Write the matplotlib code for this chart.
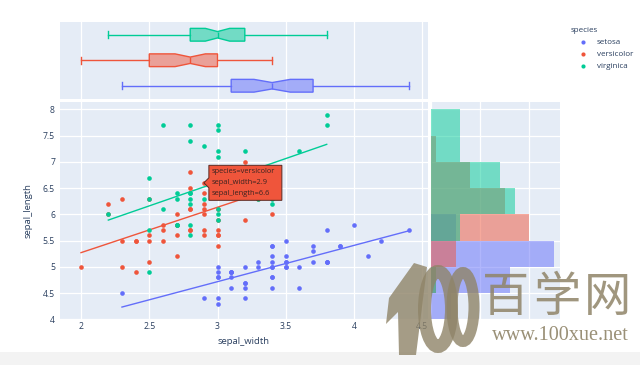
import numpy as np
import matplotlib
matplotlib.use("Agg")
import matplotlib.pyplot as plt
import matplotlib.transforms as mtransforms
from matplotlib.patches import Polygon, Ellipse, Rectangle
from matplotlib.lines import Line2D
from matplotlib.colors import to_rgba

# ---------------- data ----------------
species = ["setosa", "versicolor", "virginica"]
colors = ["#636efa", "#EF553B", "#00cc96"]

setosa_sepal_width = [3.5, 3.0, 3.2, 3.1, 3.6, 3.9, 3.4, 3.4, 2.9, 3.1, 3.7, 3.4, 3.0, 3.0, 4.0, 4.4, 3.9,
                      3.5, 3.8, 3.8, 3.4, 3.7, 3.6, 3.3, 3.4, 3.0, 3.4, 3.5, 3.4, 3.2, 3.1, 3.4, 4.1, 4.2,
                      3.1, 3.2, 3.5, 3.1, 3.0, 3.4, 3.5, 2.3, 3.2, 3.5, 3.8, 3.0, 3.8, 3.2, 3.7, 3.3]
setosa_sepal_length = [5.1, 4.9, 4.7, 4.6, 5.0, 5.4, 4.6, 5.0, 4.4, 4.9, 5.4, 4.8, 4.8, 4.3, 5.8, 5.7, 5.4,
                       5.1, 5.7, 5.1, 5.4, 5.1, 4.6, 5.1, 4.8, 5.0, 5.0, 5.2, 5.2, 4.7, 4.8, 5.4, 5.2, 5.5,
                       4.9, 5.0, 5.5, 4.9, 4.4, 5.1, 5.0, 4.5, 4.4, 5.0, 5.1, 4.8, 5.1, 4.6, 5.3, 5.0]
versicolor_sepal_width = [3.2, 3.2, 3.1, 2.3, 2.8, 2.8, 3.3, 2.4, 2.9, 2.7, 2.0, 3.0, 2.2, 2.9, 2.9, 3.1, 3.0,
                          2.7, 2.2, 2.5, 3.2, 2.8, 2.5, 2.8, 2.9, 3.0, 2.8, 3.0, 2.9, 2.6, 2.4, 2.4, 2.7, 2.7,
                          3.0, 3.4, 3.1, 2.3, 3.0, 2.5, 2.6, 3.0, 2.6, 2.3, 2.7, 3.0, 2.9, 2.9, 2.5, 2.8]
versicolor_sepal_length = [7.0, 6.4, 6.9, 5.5, 6.5, 5.7, 6.3, 4.9, 6.6, 5.2, 5.0, 5.9, 6.0, 6.1, 5.6, 6.7, 5.6,
                           5.8, 6.2, 5.6, 5.9, 6.1, 6.3, 6.1, 6.4, 6.6, 6.8, 6.7, 6.0, 5.7, 5.5, 5.5, 5.8, 6.0,
                           5.4, 6.0, 6.7, 6.3, 5.6, 5.5, 5.5, 6.1, 5.8, 5.0, 5.6, 5.7, 5.7, 6.2, 5.1, 5.7]
virginica_sepal_width = [3.3, 2.7, 3.0, 2.9, 3.0, 3.0, 2.5, 2.9, 2.5, 3.6, 3.2, 2.7, 3.0, 2.5, 2.8, 3.2, 3.0,
                         3.8, 2.6, 2.2, 3.2, 2.8, 2.8, 2.7, 3.3, 3.2, 2.8, 3.0, 2.8, 3.0, 2.8, 3.8, 2.8, 2.8,
                         2.6, 3.0, 3.4, 3.1, 3.0, 3.1, 3.1, 3.1, 2.7, 3.2, 3.3, 3.0, 2.5, 3.0, 3.4, 3.0]
virginica_sepal_length = [6.3, 5.8, 7.1, 6.3, 6.5, 7.6, 4.9, 7.3, 6.7, 7.2, 6.5, 6.4, 6.8, 5.7, 5.8, 6.4, 6.5,
                          7.7, 7.7, 6.0, 6.9, 5.6, 7.7, 6.3, 6.7, 7.2, 6.2, 6.1, 6.4, 7.2, 7.4, 7.9, 6.4, 6.3,
                          6.1, 7.7, 6.3, 6.4, 6.0, 6.9, 6.7, 6.9, 5.8, 6.8, 6.7, 6.7, 6.3, 6.5, 6.2, 5.9]

widths = [setosa_sepal_width, versicolor_sepal_width, virginica_sepal_width]
lengths = [setosa_sepal_length, versicolor_sepal_length, virginica_sepal_length]

# marginal box plot statistics (sepal_width)
box_whislo = [2.3, 2.0, 2.2]
box_q1 = [3.1, 2.5, 2.8]
box_med = [3.4, 2.8, 3.0]
box_q3 = [3.7, 3.0, 3.2]
box_whishi = [4.4, 3.4, 3.8]
box_notch_half = [0.133, 0.111, 0.089]

hist_bins = [4.0, 4.5, 5.0, 5.5, 6.0, 6.5, 7.0, 7.5, 8.0]

xtick_vals = [2, 2.5, 3, 3.5, 4, 4.5]
xtick_labels = ["2", "2.5", "3", "3.5", "4", "4.5"]
ytick_vals = [4, 4.5, 5, 5.5, 6, 6.5, 7, 7.5, 8]
ytick_labels = ["4", "4.5", "5", "5.5", "6", "6.5", "7", "7.5", "8"]

hover_point = (2.9, 6.6)
hover_lines = ["species=versicolor", "sepal_width=2.9", "sepal_length=6.6"]

# ---------------- style ----------------
W, H = 640, 365
BG = "#E5ECF6"
TXT = "#2a3f5f"
FONT = ["Open Sans", "DejaVu Sans"]
plt.rcParams["font.family"] = FONT

fig = plt.figure(figsize=(W / 100, H / 100), dpi=100)
fig.patch.set_facecolor("white")


def px_axes(left, top, right, bottom):
    return fig.add_axes([left / W, 1 - bottom / H, (right - left) / W, (bottom - top) / H])


XLIM = (1.846, 4.542)
YLIM = (3.987, 8.145)

ax = px_axes(60, 101.7, 428, 320)
axb = px_axes(60, 22, 428, 98.5)
axh = px_axes(431, 101.7, 560, 320)

for a in (ax, axb, axh):
    a.set_facecolor(BG)
    for s in a.spines.values():
        s.set_visible(False)
    a.set_axisbelow(True)
    a.tick_params(length=0)
    a.grid(True, color="white", lw=0.9)

# ---- main scatter ----
for sp, c, xs, ys in zip(species, colors, widths, lengths):
    xs = np.asarray(xs)
    ys = np.asarray(ys)
    ax.scatter(xs, ys, s=11, color=c, lw=0, zorder=3)
    k, b = np.polyfit(xs, ys, 1)
    xl = np.unique(xs)
    ax.plot(xl, k * xl + b, color=c, lw=1.0, zorder=2)

ax.set_xlim(XLIM)
ax.set_ylim(YLIM)
ax.set_xticks(xtick_vals)
ax.set_xticklabels(xtick_labels)
ax.set_yticks(ytick_vals)
ax.set_yticklabels(ytick_labels)
ax.tick_params(axis="both", labelsize=6.2, labelcolor=TXT)
ax.tick_params(axis="x", pad=1.5)
ax.tick_params(axis="y", pad=3.6)

fig.text(244 / W, 1 - 342 / H, "sepal_width", ha="center", va="center", fontsize=6.8, color=TXT)
fig.text(28 / W, 1 - 211 / H, "sepal_length", ha="center", va="center", rotation=90, fontsize=6.8, color=TXT)

# ---- marginal box (top) ----
for i, c in enumerate(colors):
    st = dict(med=box_med[i], q1=box_q1[i], q3=box_q3[i], whislo=box_whislo[i], whishi=box_whishi[i],
              cilo=box_med[i] - box_notch_half[i], cihi=box_med[i] + box_notch_half[i], fliers=[])
    axb.bxp([st], positions=[i], widths=0.5, orientation="horizontal", shownotches=True,
            patch_artist=True, showfliers=False, capwidths=0.27, manage_ticks=False,
            boxprops=dict(facecolor=to_rgba(c, 0.5), edgecolor=c, lw=1.0),
            whiskerprops=dict(color=c, lw=1.0), capprops=dict(color=c, lw=1.0),
            medianprops=dict(color=c, lw=1.0))
axb.set_xlim(XLIM)
axb.set_ylim(-0.5, 2.5)
axb.set_xticks(xtick_vals)
axb.set_yticks([])
axb.grid(False, axis="y")
axb.tick_params(labelbottom=False, labelleft=False)

# ---- marginal histogram (right) ----
for c, ys in zip(colors, lengths):
    axh.hist(ys, bins=hist_bins, orientation="horizontal", color=c, alpha=0.5, lw=0)
axh.set_ylim(YLIM)
axh.set_xlim(0, 26.25)
axh.set_yticks(ytick_vals)
axh.set_xticks([0, 10, 20])
axh.tick_params(labelbottom=False, labelleft=False)

# ---- hover label ----
ax.figure.canvas.draw()
off = mtransforms.ScaledTranslation(hover_point[0], hover_point[1], ax.transData)
tr = mtransforms.Affine2D().scale(1 / 100.0) + fig.dpi_scale_trans + off
pts = [(0, 0), (5, 5), (5, 17.5), (78, 17.5), (78, -17.5), (5, -17.5), (5, -5)]
ax.add_patch(Polygon(pts, closed=True, transform=tr, facecolor="#EF553B", edgecolor="#5a2a22",
                     lw=0.7, zorder=6, clip_on=False))
for j, line in enumerate(hover_lines):
    ax.text(7.5, 11 - 11 * j, line, transform=tr, ha="left", va="center", fontsize=5.4,
            color="#3a2320", zorder=7, clip_on=False)

# ---- legend ----
fig.text(571 / W, 1 - 30 / H, "species", ha="left", va="center", fontsize=5.8, color=TXT)
for j, (sp, c) in enumerate(zip(species, colors)):
    yy = 1 - (42 + 12 * j) / H
    fig.add_artist(Line2D([583 / W], [yy], transform=fig.transFigure, marker="o", ms=3,
                          color=c, lw=0, mew=0))
    fig.text(597 / W, yy, sp, ha="left", va="center", fontsize=5.8, color=TXT)

# ---- watermark ----
pxf = mtransforms.Affine2D().scale(1 / W, 1 / H).translate(0, 0) + fig.transFigure


def flip(pts):
    return [(x, H - y) for x, y in pts]


fig.add_artist(Rectangle((0, 0), W, H - 352, transform=pxf, facecolor="#f3f3f3", edgecolor="none", zorder=0))
wm = "#8f8468"
fig.add_artist(Polygon(flip([(399, 355), (416, 355), (427, 267), (414, 263), (389, 298), (386, 324),
                             (398, 312)]), closed=True, transform=pxf, facecolor=wm, edgecolor="none",
                       alpha=0.8, zorder=10))
fig.add_artist(Ellipse((438, H - 309), 27, 75, transform=pxf, facecolor="none", edgecolor=wm,
                       lw=13 * 0.72, alpha=0.8, zorder=10))
fig.add_artist(Ellipse((463, H - 307), 22, 69, transform=pxf, facecolor="none", edgecolor=wm,
                       lw=11 * 0.72, alpha=0.8, zorder=10))
for ch, cx in zip("百学网", [506, 557, 607]):
    fig.text(cx / W, 1 - 298 / H, ch, ha="center", va="center", fontsize=34,
             family=["Noto Sans CJK SC", "DejaVu Sans"], color=wm, alpha=0.85, zorder=10)
fig.text(560 / W, 1 - 335 / H, "www.100xue.net", ha="center", va="center", fontsize=14.6,
         family=["Liberation Serif", "DejaVu Serif"], color=wm, alpha=0.9, zorder=10)

fig.savefig("out.png", dpi=100, facecolor="white")
